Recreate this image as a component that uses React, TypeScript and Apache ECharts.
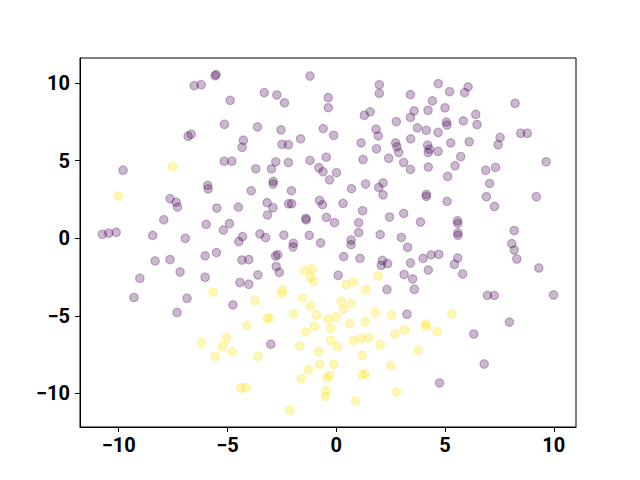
import React, { useEffect, useRef } from "react";
import * as echarts from "echarts";

const xTicks = [-10, -5, 0, 5, 10];
const yTicks = [-10, -5, 0, 5, 10];

const purplePoints: number[][] = [
  [-6.53, 9.84], [-6.21, 9.9], [-6.81, 6.58], [-6.67, 6.71], [-9.8, 4.39],
  [-5.57, 10.48], [-5.52, 10.55], [-1.21, 10.46], [-3.31, 9.39], [-2.73, 9.24], [-2.38, 8.73], [-4.88, 8.89],
  [-0.37, 9.07], [-0.37, 8.42], [-5.14, 7.35], [-3.62, 7.18], [-2.54, 6.99], [-0.6, 7.07], [-1.64, 6.41],
  [-4.27, 6.32], [-4.33, 5.87], [-2.49, 6.06], [-2.2, 6.03], [-5.15, 4.97], [-4.8, 4.97], [-3.7, 4.48],
  [-2.98, 4.48], [-2.78, 4.93], [-2.2, 4.89], [-1.21, 5.02], [-0.46, 5.23], [-0.8, 4.55], [-0.61, 4.29],
  [-2.9, 3.67], [-2.9, 3.5], [-0.31, 3.77],
  [1.98, 9.9], [1.98, 9.34], [4.69, 9.97], [5.21, 9.45], [3.41, 9.26], [1.56, 8.15], [1.29, 7.93],
  [4.42, 8.86], [4.22, 8.25], [5.0, 8.41], [3.58, 8.21], [3.41, 7.8], [2.76, 7.52], [1.83, 7.03],
  [1.93, 6.6], [5.06, 7.49], [5.09, 7.3], [3.73, 7.12], [4.14, 6.96], [4.68, 6.82], [-0.12, 6.64],
  [1.14, 6.15], [2.73, 6.15], [2.79, 5.9], [2.87, 5.53], [3.42, 6.41], [1.85, 5.77], [4.2, 6.0],
  [4.28, 5.74], [4.23, 5.53], [4.68, 5.61], [5.26, 6.15], [2.41, 5.16], [1.23, 5.08], [3.1, 4.89],
  [3.41, 4.44], [4.23, 4.59], [5.46, 4.68], [0.01, 4.23], [5.12, 3.99], [1.35, 3.5], [2.15, 3.57],
  [6.06, 9.76], [5.9, 9.39], [8.22, 8.7], [6.41, 7.99], [5.84, 7.57], [6.47, 7.33], [7.53, 6.5],
  [7.44, 6.03], [8.48, 6.77], [8.78, 6.77], [6.11, 6.22], [5.72, 5.27], [6.87, 4.39], [7.32, 4.57],
  [9.65, 4.93], [7.05, 3.54],
  [-7.64, 2.55], [-7.36, 2.33], [-7.3, 2.01], [-7.93, 1.2], [-10.75, 0.26], [-10.46, 0.34], [-10.12, 0.39],
  [-8.44, 0.19], [-6.94, 0.0], [-8.33, -1.46], [-7.64, -1.37], [-7.18, -2.17], [-9.03, -2.57],
  [-9.3, -3.81], [-6.86, -3.86], [-6.03, -1.13], [-6.03, -2.51],
  [-5.91, 3.41], [-5.89, 3.18], [-3.91, 3.07], [-2.06, 3.07], [-5.49, 1.95], [-4.5, 2.01], [-3.18, 2.3],
  [-2.91, 1.97], [-3.16, 1.5], [-2.19, 2.23], [-2.05, 2.23], [-0.77, 2.44], [-0.63, 2.17], [-1.4, 1.29],
  [-1.38, 1.19], [-0.45, 1.35], [-5.98, 0.9], [-4.91, 0.95], [-5.19, 0.53], [-4.31, 0.11], [-4.48, -0.21],
  [-3.51, 0.28], [-3.25, 0.05], [-2.41, 0.21], [-1.24, 0.19], [-1.97, -0.32], [-1.99, -0.56], [-0.72, -0.3],
  [-5.51, -0.92], [-4.34, -1.4], [-4.02, -1.37], [-2.79, -1.14], [-2.69, -1.06], [-2.76, -1.82],
  [-2.62, -2.19], [-3.6, -2.36], [-4.43, -2.85], [-4.02, -2.96], [-4.75, -4.29],
  [0.7, 3.2], [1.95, 3.28], [2.15, 2.81], [4.14, 2.83], [4.14, 2.7], [5.09, 2.38], [0.31, 2.25],
  [1.21, 1.78], [2.45, 1.37], [3.1, 1.61], [3.87, 1.05], [5.57, 1.13], [5.59, 0.96], [-0.08, 1.01],
  [1.03, 1.01], [1.03, 0.37], [2.02, 0.24], [2.99, 0.06], [0.68, -0.11], [0.68, -0.41], [3.28, -0.58],
  [5.59, 0.35], [5.59, 0.19], [0.34, -1.18], [1.09, -1.29], [2.12, -1.43], [2.36, -1.63], [2.07, -1.74],
  [3.99, -1.29], [4.36, -1.07], [4.71, -1.03], [3.41, -1.59], [4.23, -2.04], [5.43, -1.67], [0.09, -2.38],
  [3.12, -2.33], [3.51, -2.62], [2.33, -3.3], [3.59, -3.28],
  [6.9, 2.68], [7.27, 2.06], [9.2, 2.68], [8.18, 0.5], [8.07, -0.34], [8.18, -0.75], [8.3, -1.33],
  [5.58, -1.27], [5.81, -2.3], [9.31, -1.91], [6.95, -3.68], [7.26, -3.68], [9.99, -3.65],
  [-7.32, -4.78], [-3.01, -6.82], [3.25, -4.89], [4.75, -9.32], [7.96, -5.4], [6.32, -6.17], [6.8, -8.1],
];

const yellowPoints: number[][] = [
  [-7.53, 4.63], [-10.02, 2.72], [-1.46, -2.08], [-1.1, -1.97], [-1.18, -2.49], [-1.06, -2.78],
  [-5.67, -3.47], [-2.49, -3.32], [-2.49, -3.58], [-3.73, -4.02], [-1.55, -3.84], [-1.19, -4.37],
  [1.93, -2.42], [0.45, -2.98], [0.8, -2.81], [1.37, -3.32], [0.23, -4.05], [0.69, -4.21],
  [-1.95, -4.87], [-0.91, -4.95], [-3.18, -5.16], [-3.07, -5.13], [-0.38, -5.21], [-4.11, -5.61],
  [-1.01, -5.68], [-1.41, -6.03], [-0.25, -5.8], [-5.05, -6.43], [-5.23, -6.96], [-4.77, -7.31],
  [-5.57, -7.61], [-3.6, -7.61], [-1.69, -6.93], [-0.81, -7.29], [-0.25, -6.58], [-0.77, -8.12],
  [-1.27, -8.47], [-1.6, -9.05], [-0.43, -9.0], [-0.3, -8.84], [-4.39, -9.65], [-4.14, -9.6],
  [-0.47, -9.82], [-0.51, -10.18], [-2.13, -11.08], [-6.2, -6.73],
  [0.34, -4.57], [-0.01, -5.06], [1.79, -4.78], [2.54, -4.95], [5.31, -4.87], [0.61, -5.49],
  [1.32, -5.38], [4.1, -5.53], [4.14, -5.66], [4.63, -6.0], [3.14, -5.92], [2.7, -6.17],
  [0.77, -6.6], [1.15, -6.45], [1.49, -6.41], [2.02, -6.86], [0.06, -6.96], [3.76, -7.2],
  [1.2, -7.54], [-0.12, -8.12], [2.5, -8.21], [1.18, -8.79], [1.33, -8.73], [2.77, -9.9], [0.89, -10.48],
];

const xRange = [-11.78, 11.02];
const yRange = [-12.16, 11.62];

const fmt = (v: number) => String(v).replace("-", "\u2212");

export default function App() {
  const ref = useRef<HTMLDivElement>(null);
  useEffect(() => {
    if (!ref.current) return;
    const chart = echarts.init(ref.current, null, { renderer: "svg" });
    const labelStyle = {
      fontFamily: "Roboto",
      fontWeight: "bold" as const,
      fontSize: 20,
      color: "#000",
    };
    chart.setOption({
      animation: false,
      backgroundColor: "#fff",
      grid: {
        left: 80,
        right: 64,
        top: 58,
        bottom: 53,
        show: true,
        borderColor: "#000",
        borderWidth: 1,
        backgroundColor: "transparent",
      },
      xAxis: {
        type: "value",
        position: "bottom",
        min: xRange[0],
        max: xRange[1],
        splitLine: { show: false },
        axisLine: { show: true, onZero: false, lineStyle: { color: "#000", width: 1 } },
        axisTick: {
          show: true,
          inside: false,
          length: 5,
          customValues: xTicks,
          lineStyle: { color: "#000", width: 1 },
        },
        axisLabel: {
          ...labelStyle,
          margin: 8,
          customValues: xTicks,
          formatter: fmt,
        },
      },
      yAxis: {
        type: "value",
        position: "left",
        min: yRange[0],
        max: yRange[1],
        splitLine: { show: false },
        axisLine: { show: true, onZero: false, lineStyle: { color: "#000", width: 1 } },
        axisTick: {
          show: true,
          inside: false,
          length: 5,
          customValues: yTicks,
          lineStyle: { color: "#000", width: 1 },
        },
        axisLabel: {
          ...labelStyle,
          margin: 10,
          customValues: yTicks,
          formatter: fmt,
        },
      },
      series: [
        {
          name: "0",
          type: "scatter",
          data: purplePoints,
          symbol: "circle",
          symbolSize: 8.5,
          itemStyle: {
            color: "rgba(68,1,84,0.35)",
            borderColor: "rgba(68,1,84,0.35)",
            borderWidth: 1.2,
          },
        },
        {
          name: "1",
          type: "scatter",
          data: yellowPoints,
          symbol: "circle",
          symbolSize: 8.5,
          itemStyle: {
            color: "rgba(253,231,37,0.4)",
            borderColor: "rgba(253,231,37,0.4)",
            borderWidth: 1.2,
          },
        },
      ],
    });
    return () => chart.dispose();
  }, []);
  return (
    <div
      ref={ref}
      style={{ position: "fixed", left: 0, top: 0, width: 640, height: 480, background: "#fff" }}
    />
  );
}
